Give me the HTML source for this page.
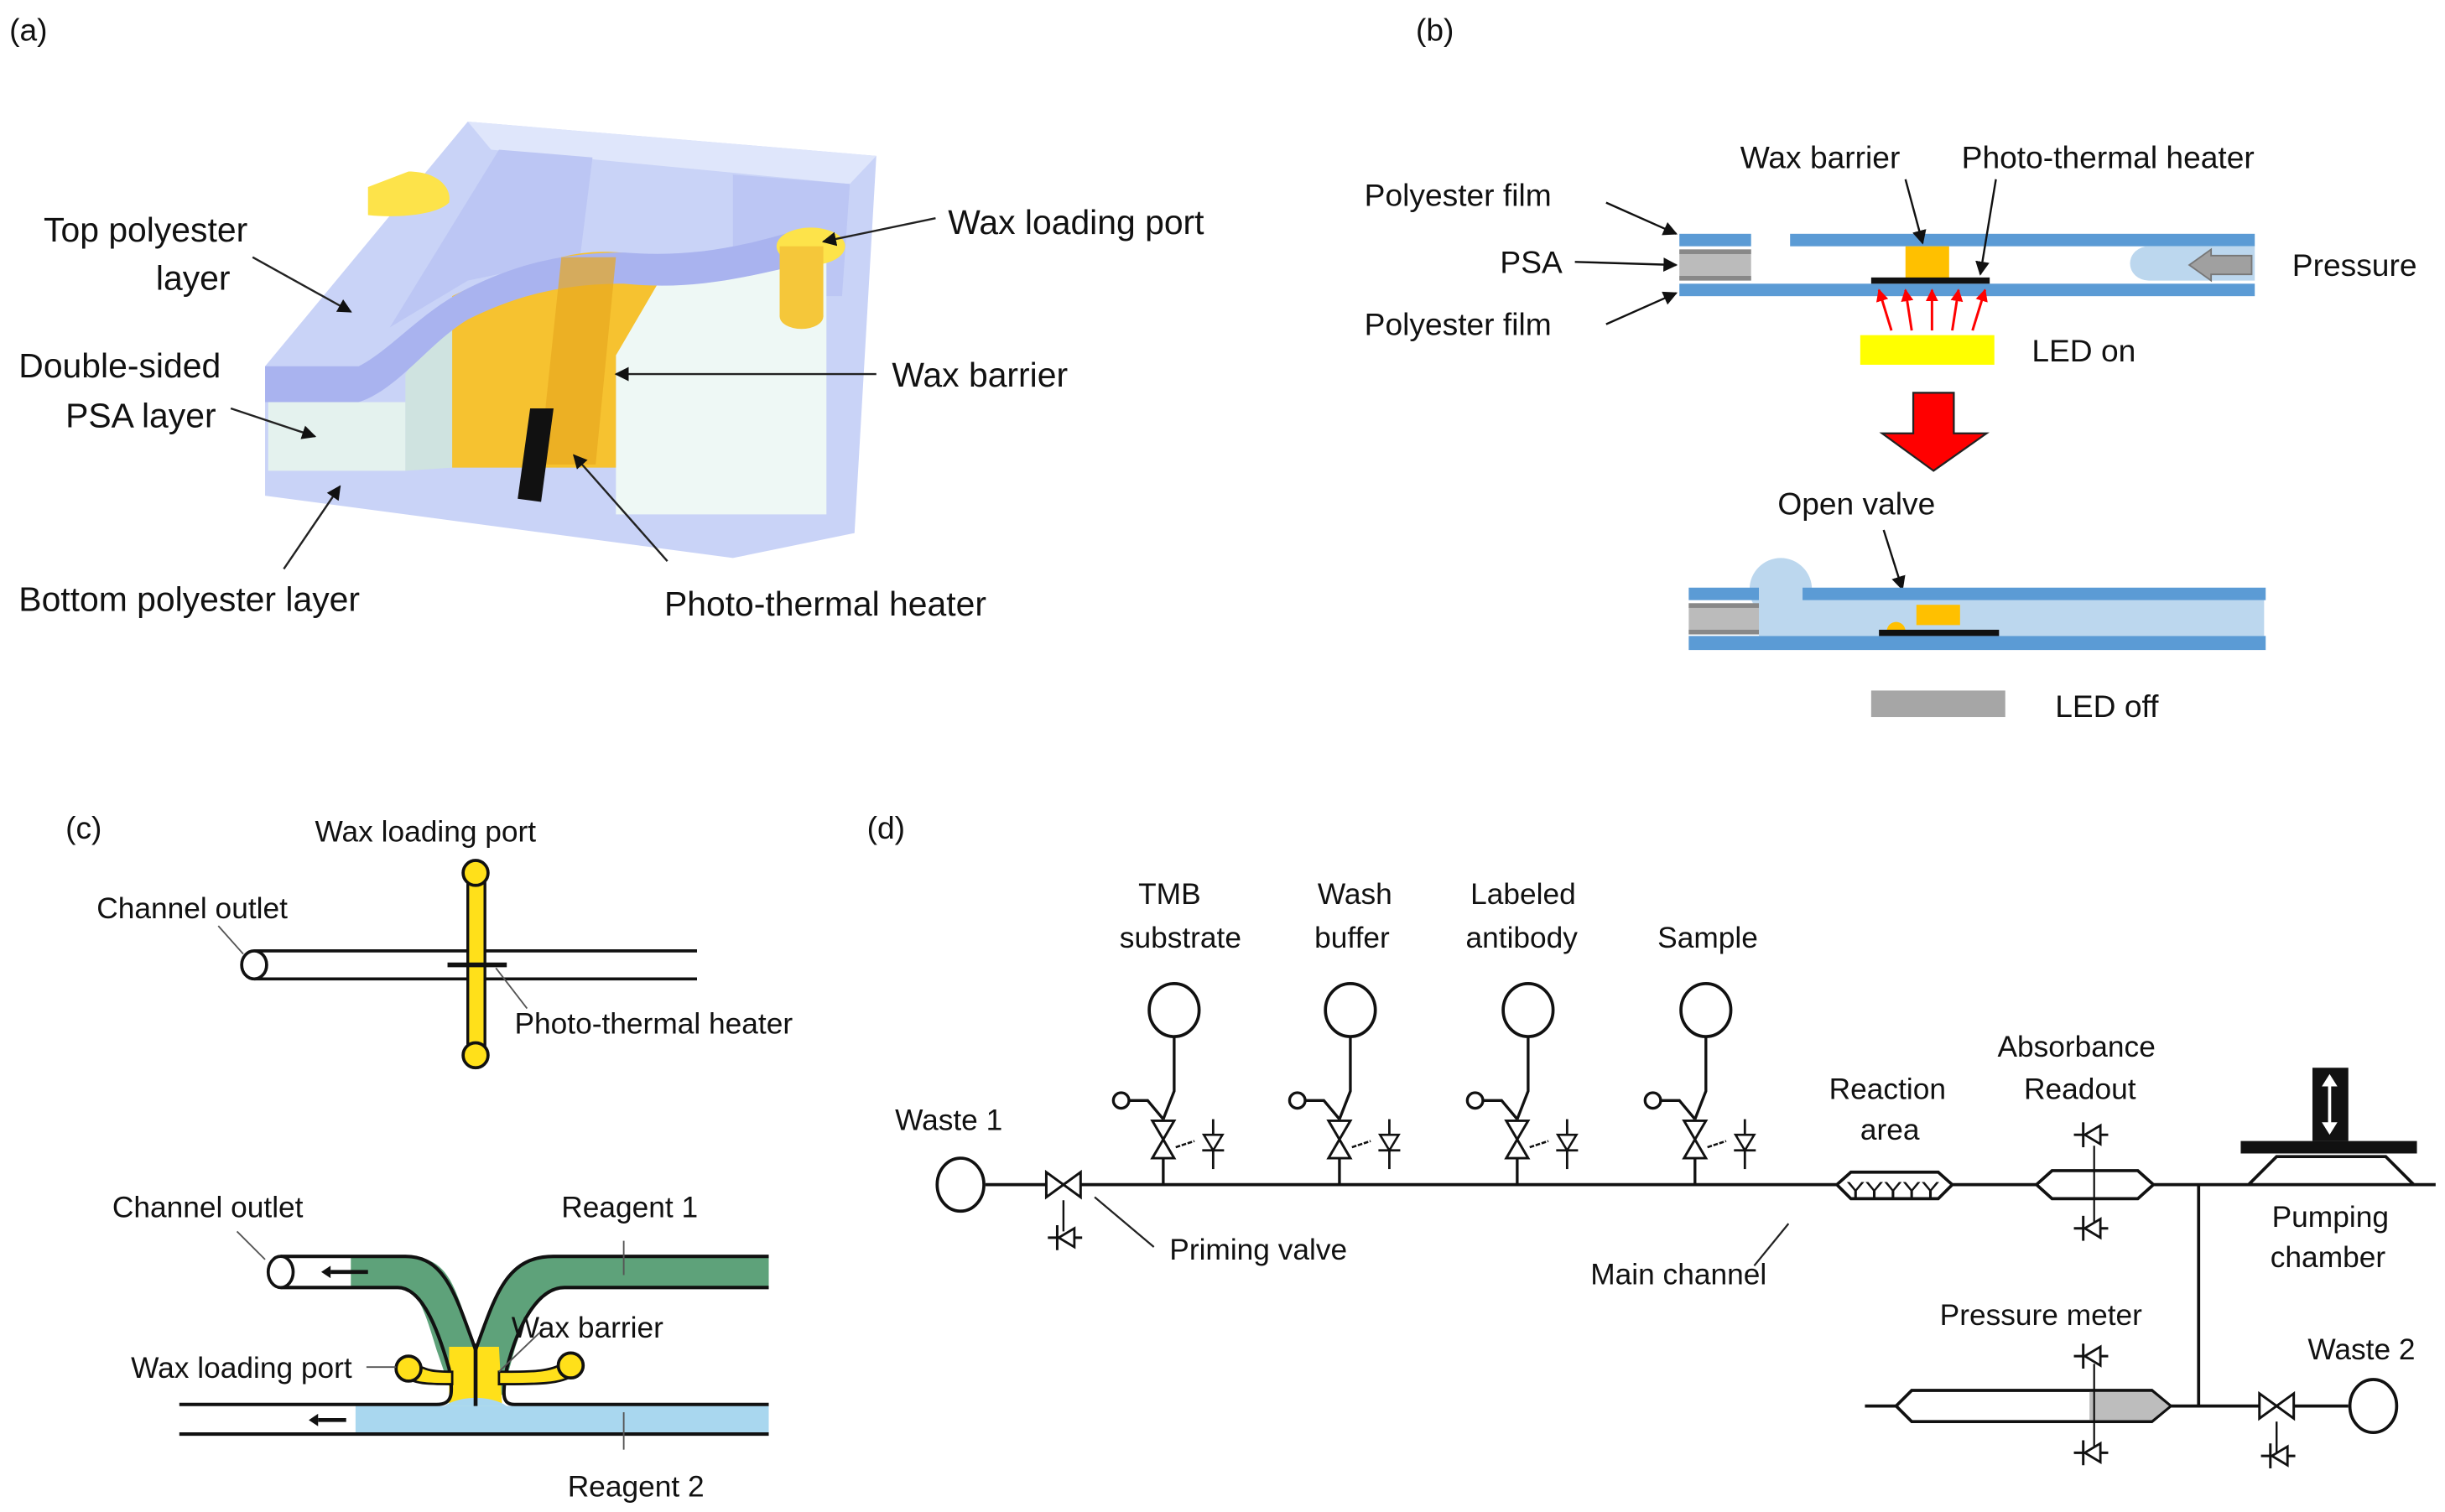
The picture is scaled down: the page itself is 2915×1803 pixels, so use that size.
<!DOCTYPE html>
<html><head><meta charset="utf-8"><style>
html,body{margin:0;padding:0;background:#fff;}
svg{display:block;}
text{font-family:"Liberation Sans",sans-serif;fill:#111;}
.c{font-family:"Liberation Sans",sans-serif;font-size:19px;}
</style></head><body>
<svg width="2915" height="1803" viewBox="0 0 1568 970" preserveAspectRatio="none" xmlns="http://www.w3.org/2000/svg">
<defs>
<marker id="ah" viewBox="0 0 10 10" refX="9" refY="5" markerWidth="7" markerHeight="7" orient="auto"><path d="M0 0L10 5L0 10z" fill="#111"/></marker>
<marker id="ar" viewBox="0 0 10 10" refX="9" refY="5" markerWidth="5" markerHeight="5" orient="auto"><path d="M0 0L10 5L0 10z" fill="#f00"/></marker>
<g id="bt"><path d="M-11 -8L11 8L11 -8L-11 8Z" fill="#fff" stroke="#111" stroke-width="1.6"/></g>
<g id="vbt"><path d="M-7 -12L7 12L-7 12L7 -12Z" fill="#fff" stroke="#111" stroke-width="1.6"/></g>
<g id="chk"><line x1="-10" y1="0" x2="12" y2="0" stroke="#111" stroke-width="1.6"/><line x1="-4" y1="-8" x2="-4" y2="8" stroke="#111" stroke-width="1.6"/><path d="M-3 0L7 -6L7 6Z" fill="#fff" stroke="#111" stroke-width="1.5"/></g>
</defs>
<rect width="1568" height="970" fill="#fff"/>

<!-- (a) -->
<text x="6" y="26" font-size="20">(a)</text>
<polygon points="300,78 562,100 548,342 470,358 170,318 170,235" fill="#c9d3f7"/>
<polygon points="300,78 562,100 545,118 315,96" fill="#dfe6fb"/>
<polygon points="320,96 380,101 372,165 300,180 250,210" fill="#bcc6f4"/>
<polygon points="470,112 545,118 540,190 470,190" fill="#bcc6f4"/>
<polygon points="172,258 260,258 260,302 172,302" fill="#e4f2ee"/>
<polygon points="260,240 290,190 290,300 260,302" fill="#cfe3e0"/>
<polygon points="395,200 432,170 530,165 530,330 395,330" fill="#eef8f5"/>
<path d="M290,190 C320,175 340,170 360,165 C380,160 400,160 430,168 L395,228 L395,300 L290,300 Z" fill="#f6c230"/>
<path d="M170,235 L230,235 C250,225 270,200 300,185 C330,170 360,162 400,162 C440,165 470,160 510,148 L512,170 C470,180 440,186 400,182 C360,182 330,190 300,205 C275,220 255,250 230,258 L170,258Z" fill="#a9b3ef"/>
<path d="M360,165 L395,165 L382,298 L346,298Z" fill="#e8a820" opacity="0.7"/>
<polygon points="340,262 355,262 347,322 332,320" fill="#111"/>
<path d="M236,120 L262,110 C280,110 290,120 288,130 C280,138 255,140 236,138Z" fill="#fde34a"/>
<ellipse cx="520" cy="158" rx="22" ry="12" fill="#fde34a"/>
<rect x="500" y="158" width="28" height="45" fill="#f5c73a"/>
<ellipse cx="514" cy="203" rx="14" ry="8" fill="#f5c73a"/>
<text x="28" y="155" font-size="22">Top polyester</text>
<text x="100" y="186" font-size="22">layer</text>
<text x="12" y="242" font-size="22">Double-sided</text>
<text x="42" y="274" font-size="22">PSA layer</text>
<text x="12" y="392" font-size="22">Bottom polyester layer</text>
<text x="608" y="150" font-size="22">Wax loading port</text>
<text x="572" y="248" font-size="22">Wax barrier</text>
<text x="426" y="395" font-size="22">Photo-thermal heater</text>
<line x1="162" y1="165" x2="225" y2="200" stroke="#222" stroke-width="1.3" marker-end="url(#ah)"/>
<line x1="148" y1="262" x2="202" y2="280" stroke="#222" stroke-width="1.3" marker-end="url(#ah)"/>
<line x1="182" y1="365" x2="218" y2="312" stroke="#222" stroke-width="1.3" marker-end="url(#ah)"/>
<line x1="600" y1="140" x2="528" y2="155" stroke="#222" stroke-width="1.3" marker-end="url(#ah)"/>
<line x1="562" y1="240" x2="395" y2="240" stroke="#222" stroke-width="1.3" marker-end="url(#ah)"/>
<line x1="428" y1="360" x2="368" y2="292" stroke="#222" stroke-width="1.3" marker-end="url(#ah)"/>

<!-- (b) -->
<text x="908" y="26" font-size="20">(b)</text>
<rect x="1077" y="150" width="46" height="8" fill="#5b9bd5"/>
<rect x="1148" y="150" width="298" height="8" fill="#5b9bd5"/>
<rect x="1077" y="160" width="46" height="20" fill="#bbb"/>
<rect x="1077" y="160" width="46" height="3" fill="#888"/>
<rect x="1077" y="177" width="46" height="3" fill="#888"/>
<rect x="1077" y="182" width="369" height="8" fill="#5b9bd5"/>
<path d="M1378,158 L1446,158 L1446,180 L1378,180 A12,11 0 0 1 1378,158Z" fill="#bcd7ee"/>
<path d="M1444,164 L1418,164 L1418,160 L1404,170 L1418,180 L1418,176 L1444,176Z" fill="#a0a0a0" stroke="#777"/>
<rect x="1222" y="158" width="28" height="22" fill="#ffc000"/>
<rect x="1200" y="178" width="76" height="4" fill="#111"/>
<g stroke="#f00" stroke-width="1.6" marker-end="url(#ar)">
<line x1="1213" y1="212" x2="1205" y2="186"/><line x1="1226" y1="212" x2="1222" y2="186"/><line x1="1239" y1="212" x2="1239" y2="186"/><line x1="1252" y1="212" x2="1256" y2="186"/><line x1="1265" y1="212" x2="1273" y2="186"/></g>
<rect x="1193" y="215" width="86" height="19" fill="#ffff00"/>
<text x="875" y="132" font-size="20">Polyester film</text>
<text x="962" y="175" font-size="20">PSA</text>
<text x="875" y="215" font-size="20">Polyester film</text>
<text x="1116" y="108" font-size="20">Wax barrier</text>
<text x="1258" y="108" font-size="20">Photo-thermal heater</text>
<text x="1470" y="177" font-size="20">Pressure</text>
<text x="1303" y="232" font-size="20">LED on</text>
<g stroke="#111" stroke-width="1.3" marker-end="url(#ah)">
<line x1="1030" y1="130" x2="1075" y2="150"/><line x1="1010" y1="168" x2="1075" y2="170"/><line x1="1030" y1="208" x2="1075" y2="188"/>
<line x1="1222" y1="115" x2="1233" y2="156"/><line x1="1280" y1="115" x2="1270" y2="176"/>
<line x1="1208" y1="340" x2="1220" y2="378"/></g>
<path d="M1227,252 L1253,252 L1253,278 L1274,278 L1240,302 L1207,278 L1227,278Z" fill="#f00" stroke="#222" stroke-width="1.2"/>
<text x="1140" y="330" font-size="20">Open valve</text>
<rect x="1128" y="385" width="324" height="23" fill="#bcd7ee"/>
<circle cx="1142" cy="378" r="20" fill="#bcd7ee"/>
<rect x="1083" y="377" width="45" height="8" fill="#5b9bd5"/>
<rect x="1156" y="377" width="297" height="8" fill="#5b9bd5"/>
<rect x="1083" y="387" width="45" height="20" fill="#bbb"/>
<rect x="1083" y="387" width="45" height="3" fill="#888"/>
<rect x="1083" y="404" width="45" height="3" fill="#888"/>
<rect x="1083" y="408" width="370" height="9" fill="#5b9bd5"/>
<rect x="1229" y="388" width="28" height="13" fill="#ffc000"/>
<path d="M1210,405 A6,6 0 0 1 1222,405Z" fill="#ffc000"/>
<rect x="1205" y="404" width="77" height="4" fill="#111"/>
<rect x="1200" y="443" width="86" height="17" fill="#a6a6a6"/>
<text x="1318" y="460" font-size="20">LED off</text>

<!-- (c) -->
<text x="42" y="538" font-size="20">(c)</text>
<line x1="163" y1="610" x2="447" y2="610" stroke="#111" stroke-width="2"/>
<line x1="163" y1="628" x2="447" y2="628" stroke="#111" stroke-width="2"/>
<ellipse cx="163" cy="619" rx="8" ry="9" fill="#fff" stroke="#111" stroke-width="2"/>
<rect x="300" y="560" width="11" height="118" fill="#ffe01a" stroke="#111" stroke-width="1.8"/>
<circle cx="305" cy="560" r="8" fill="#ffe01a" stroke="#111" stroke-width="2"/>
<circle cx="305" cy="677" r="8" fill="#ffe01a" stroke="#111" stroke-width="2"/>
<line x1="287" y1="619" x2="325" y2="619" stroke="#111" stroke-width="3"/>
<text x="202" y="540" class="c">Wax loading port</text>
<text x="62" y="589" class="c">Channel outlet</text>
<text x="330" y="663" class="c">Photo-thermal heater</text>
<line x1="140" y1="594" x2="156" y2="612" stroke="#555"/>
<line x1="318" y1="621" x2="338" y2="647" stroke="#555"/>
<!-- bottom c -->
<path d="M225,806 L260,806 C285,806 290,820 300,850 L305,866 L312,850 C320,820 330,806 355,806 L493,806 L493,826 L362,826 C345,826 338,840 330,866 L322,895 L290,895 L280,866 C272,840 268,826 255,826 L225,826Z" fill="#5ea27a"/>
<path d="M288,864 L320,864 L322,902 L288,902Z" fill="#ffe01a"/>
<rect x="228" y="902" width="265" height="18" fill="#a9d7ef"/>
<path d="M285,902 C295,895 315,895 325,902Z" fill="#a9d7ef"/>
<path d="M180,806 L260,806 C285,806 292,830 305,866 C318,830 325,806 355,806 L493,806" fill="none" stroke="#111" stroke-width="2.2"/>
<path d="M180,826 L255,826 C270,826 280,850 288,878 C291,895 290,901 280,901 L115,901" fill="none" stroke="#111" stroke-width="2.2"/>
<path d="M493,826 L362,826 C345,826 332,850 325,878 C322,895 322,901 330,901 L493,901" fill="none" stroke="#111" stroke-width="2.2"/>
<line x1="115" y1="920" x2="493" y2="920" stroke="#111" stroke-width="2.2"/>
<path d="M262,872 C272,880 280,880 290,880 L290,888 C275,888 265,888 258,882Z" fill="#ffe01a" stroke="#111" stroke-width="1.5"/>
<path d="M365,872 C355,880 345,880 320,880 L320,888 C345,888 360,888 368,882Z" fill="#ffe01a" stroke="#111" stroke-width="1.5"/>
<circle cx="262" cy="878" r="8" fill="#ffe01a" stroke="#111" stroke-width="2"/>
<circle cx="366" cy="876" r="8" fill="#ffe01a" stroke="#111" stroke-width="2"/>
<line x1="305" y1="862" x2="305" y2="902" stroke="#111" stroke-width="2.5"/>
<ellipse cx="180" cy="816" rx="8" ry="10" fill="#fff" stroke="#111" stroke-width="2"/>
<line x1="212" y1="816" x2="236" y2="816" stroke="#111" stroke-width="2.5"/><path d="M212,812 L206,816 L212,820Z" fill="#111"/>
<line x1="204" y1="911" x2="222" y2="911" stroke="#111" stroke-width="2.5"/><path d="M204,907 L198,911 L204,915Z" fill="#111"/>
<text x="72" y="781" class="c">Channel outlet</text>
<text x="360" y="781" class="c">Reagent 1</text>
<text x="328" y="858" class="c">Wax barrier</text>
<text x="84" y="884" class="c">Wax loading port</text>
<text x="364" y="960" class="c">Reagent 2</text>
<line x1="152" y1="790" x2="170" y2="808" stroke="#555"/>
<line x1="400" y1="796" x2="400" y2="818" stroke="#555"/>
<line x1="400" y1="906" x2="400" y2="930" stroke="#555"/>
<line x1="235" y1="877" x2="254" y2="877" stroke="#555"/>
<line x1="346" y1="855" x2="320" y2="880" stroke="#555"/>

<!-- (d) -->
<text x="556" y="538" font-size="20">(d)</text>
<g stroke="#111" stroke-width="2" fill="none">
<line x1="632" y1="760" x2="1178" y2="760"/>
<line x1="1250" y1="760" x2="1306" y2="760"/>
<line x1="1380" y1="760" x2="1442" y2="760"/>
<line x1="1546" y1="760" x2="1562" y2="760"/>
<line x1="1410" y1="760" x2="1410" y2="902"/>
<line x1="1196" y1="902" x2="1216" y2="902"/>
<line x1="1390" y1="902" x2="1506" y2="902"/>
<ellipse cx="616" cy="760" rx="15" ry="17" fill="#fff"/>
<ellipse cx="1522" cy="902" rx="15" ry="17" fill="#fff"/>
</g>
<use href="#bt" x="682" y="760"/>
<use href="#bt" x="1460" y="902"/>
<g stroke="#111" stroke-width="1.3"><line x1="682" y1="770" x2="682" y2="790"/><line x1="1460" y1="912" x2="1460" y2="932"/></g>
<use href="#chk" x="682" y="794"/>
<use href="#chk" x="1460" y="934"/>
<g id="inlet">
<ellipse cx="753" cy="648" rx="16" ry="17" fill="#fff" stroke="#111" stroke-width="2"/>
<path d="M753,665 L753,700 L746,718" fill="none" stroke="#111" stroke-width="1.8"/>
<path d="M724,706 L736,706 L746,718" fill="none" stroke="#111" stroke-width="1.8"/>
<circle cx="719" cy="706" r="5" fill="#fff" stroke="#111" stroke-width="1.8"/>
<use href="#vbt" x="746" y="731"/>
<line x1="746" y1="743" x2="746" y2="760" stroke="#111" stroke-width="1.8"/>
<line x1="778" y1="718" x2="778" y2="750" stroke="#111" stroke-width="1.5"/>
<path d="M772,728 L784,728 L778,738Z" fill="#fff" stroke="#111" stroke-width="1.4"/>
<line x1="771" y1="738" x2="785" y2="738" stroke="#111" stroke-width="1.5"/>
<path d="M754,736 L766,732" stroke="#111" stroke-width="1.4" fill="none" stroke-dasharray="3,1"/>
</g>
<use href="#inlet" x="113"/>
<use href="#inlet" x="227"/>
<use href="#inlet" x="341"/>
<path d="M1178,760 L1187,752 L1243,752 L1252,760 L1243,769 L1187,769Z" fill="#fff" stroke="#111" stroke-width="2"/>
<text x="1184" y="768" font-size="14" textLength="60" lengthAdjust="spacingAndGlyphs">YYYYY</text>
<path d="M1306,760 L1316,751 L1371,751 L1381,760 L1371,769 L1316,769Z" fill="#fff" stroke="#111" stroke-width="2"/>
<line x1="1343" y1="735" x2="1343" y2="786" stroke="#111" stroke-width="1.2"/>
<use href="#chk" x="1340" y="728"/>
<use href="#chk" x="1340" y="788"/>
<path d="M1442,760 L1460,742 L1530,742 L1548,760Z" fill="#fff" stroke="#111" stroke-width="2"/>
<rect x="1437" y="732" width="113" height="8" fill="#111"/>
<rect x="1483" y="685" width="23" height="47" fill="#111"/>
<line x1="1494" y1="692" x2="1494" y2="725" stroke="#fff" stroke-width="2"/>
<path d="M1489,697 L1494,689 L1499,697Z M1489,720 L1494,728 L1499,720Z" fill="#fff"/>
<path d="M1216,902 L1226,892 L1380,892 L1392,902 L1380,912 L1226,912Z" fill="#fff" stroke="#111" stroke-width="2"/>
<path d="M1340,893 L1380,893 L1391,902 L1380,911 L1340,911Z" fill="#bdbdbd"/>
<line x1="1343" y1="875" x2="1343" y2="928" stroke="#111" stroke-width="1.2"/>
<use href="#chk" x="1340" y="870"/>
<use href="#chk" x="1340" y="932"/>
<line x1="702" y1="768" x2="740" y2="800" stroke="#222" stroke-width="1.2"/>
<line x1="1147" y1="785" x2="1125" y2="812" stroke="#222" stroke-width="1.2"/>
<g font-size="19">
<text x="574" y="725">Waste 1</text>
<text x="730" y="580">TMB</text><text x="718" y="608">substrate</text>
<text x="845" y="580">Wash</text><text x="843" y="608">buffer</text>
<text x="943" y="580">Labeled</text><text x="940" y="608">antibody</text>
<text x="1063" y="608">Sample</text>
<text x="1173" y="705">Reaction</text><text x="1193" y="731">area</text>
<text x="1281" y="678">Absorbance</text><text x="1298" y="705">Readout</text>
<text x="1457" y="787">Pumping</text><text x="1456" y="813">chamber</text>
<text x="750" y="808">Priming valve</text>
<text x="1020" y="824">Main channel</text>
<text x="1244" y="850">Pressure meter</text>
<text x="1480" y="872">Waste 2</text>
</g>
</svg>
</body></html>
